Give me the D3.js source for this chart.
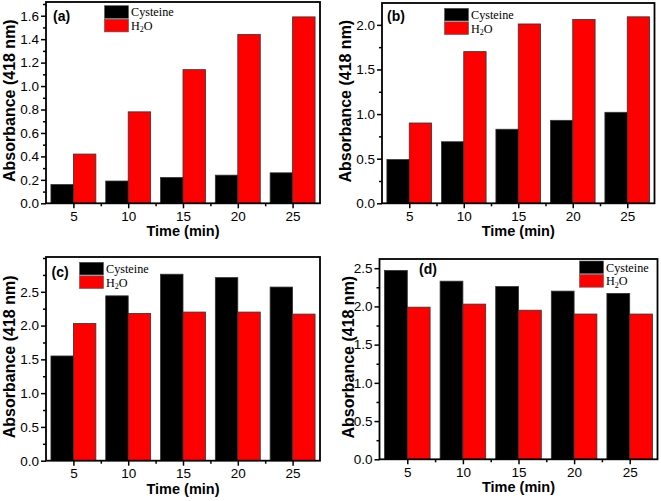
<!DOCTYPE html>
<html>
<head>
<meta charset="utf-8">
<script src="https://cdn.jsdelivr.net/npm/d3@7"></script>
<style>
  html, body { margin: 0; padding: 0; background: #fff; }
  svg { display: block; }
</style>
</head>
<body>
<svg id="chart" width="661" height="501"></svg>
<script>
// ---------- DATA ----------
const times = [5, 10, 15, 20, 25];
const seriesNames = ["Cysteine", "H2O"];

const cysteineA = [0.16, 0.19, 0.22, 0.24, 0.26];
const waterA    = [0.42, 0.78, 1.14, 1.44, 1.59];

const cysteineB = [0.49, 0.69, 0.83, 0.93, 1.02];
const waterB    = [0.90, 1.70, 2.01, 2.06, 2.09];

const cysteineC = [1.55, 2.44, 2.76, 2.71, 2.57];
const waterC    = [2.03, 2.18, 2.20, 2.20, 2.17];

const cysteineD = [2.47, 2.33, 2.26, 2.20, 2.17];
const waterD    = [1.99, 2.03, 1.95, 1.90, 1.90];

const yTicksA = [0.0, 0.2, 0.4, 0.6, 0.8, 1.0, 1.2, 1.4, 1.6];
const yTicksB = [0.0, 0.5, 1.0, 1.5, 2.0];
const yTicksC = [0.0, 0.5, 1.0, 1.5, 2.0, 2.5];
const yTicksD = [0.0, 0.5, 1.0, 1.5, 2.0, 2.5];

const panelLabels = ["(a)", "(b)", "(c)", "(d)"];
const xTitle = "Time (min)";
const yTitle = "Absorbance (418 nm)";

// ---------- LAYOUT / STYLE ----------
const colors = ["#000000", "#ff0000"];
const panels = [
  { label: panelLabels[0], cys: cysteineA, wat: waterA, ticks: yTicksA, yMax: 1.717, minorStep: 0.1,
    box: { l: 46, r: 320, t: 2, b: 203.3 }, leg: { x: 104.5, y: 5.7 }, lab: { x: 53, y: 16 }, ytx: 9 },
  { label: panelLabels[1], cys: cysteineB, wat: waterB, ticks: yTicksB, yMax: 2.245, minorStep: 0.25,
    box: { l: 382, r: 654.5, t: 3, b: 203.3 }, leg: { x: 444.5, y: 8.3 }, lab: { x: 387, y: 16 }, ytx: 345 },
  { label: panelLabels[2], cys: cysteineC, wat: waterC, ticks: yTicksC, yMax: 3.015, minorStep: 0.25,
    box: { l: 46, r: 320, t: 257, b: 460.7 }, leg: { x: 79.5, y: 262.3 }, lab: { x: 51.5, y: 272 }, ytx: 9 },
  { label: panelLabels[3], cys: cysteineD, wat: waterD, ticks: yTicksD, yMax: 2.62, minorStep: 0.25,
    box: { l: 379.5, r: 657.5, t: 259, b: 459.3 }, leg: { x: 579.5, y: 261 }, lab: { x: 419, y: 268.5 }, ytx: 348 }
];

const svg = d3.select("#chart");
const sansFont = "'Liberation Sans', Arial, sans-serif";
const serifFont = "'Liberation Serif', 'Times New Roman', serif";

panels.forEach(p => {
  const B = p.box;
  const g = svg.append("g");
  const x = d3.scaleLinear().domain([2.5, 27.5]).range([B.l, B.r]);
  const y = d3.scaleLinear().domain([0, p.yMax]).range([B.b, B.t]);
  const barW = 2.05; // in x units

  const rows = times.map((t, i) => ({ t, vals: [p.cys[i], p.wat[i]] }));

  // bars
  rows.forEach(r => {
    r.vals.forEach((v, k) => {
      const x0 = k === 0 ? r.t - barW : r.t;
      g.append("rect")
        .attr("x", x(x0))
        .attr("y", y(v))
        .attr("width", x(x0 + barW) - x(x0))
        .attr("height", y(0) - y(v))
        .attr("fill", colors[k])
        .attr("stroke", "#333")
        .attr("stroke-width", 0.8);
    });
  });

  // y axis
  const minorY = d3.range(0, p.yMax + 1e-9, p.minorStep).filter(v => !p.ticks.some(t => Math.abs(t - v) < 1e-6));
  const yAxis = d3.axisLeft(y).tickValues(p.ticks).tickFormat(d3.format(".1f")).tickSize(5).tickPadding(2);
  const yg = g.append("g").attr("transform", `translate(${B.l},0)`).call(yAxis);
  yg.select(".domain").remove();
  yg.selectAll("line").attr("stroke", "#000").attr("stroke-width", 1.5);
  yg.selectAll("text").attr("font-family", sansFont).attr("font-size", 13.5).attr("fill", "#000");
  const ym = g.append("g").attr("transform", `translate(${B.l},0)`)
    .call(d3.axisLeft(y).tickValues(minorY).tickFormat("").tickSize(3));
  ym.select(".domain").remove();
  ym.selectAll("line").attr("stroke", "#000").attr("stroke-width", 1.5);

  // x axis
  const xAxis = d3.axisBottom(x).tickValues(times).tickFormat(d3.format("d")).tickSize(5).tickPadding(3);
  const xg = g.append("g").attr("transform", `translate(0,${B.b})`).call(xAxis);
  xg.select(".domain").remove();
  xg.selectAll("line").attr("stroke", "#000").attr("stroke-width", 1.5);
  xg.selectAll("text").attr("font-family", sansFont).attr("font-size", 13.5).attr("fill", "#000");
  const minorX = times.slice(0, -1).map(t => t + 2.5);
  const xm = g.append("g").attr("transform", `translate(0,${B.b})`)
    .call(d3.axisBottom(x).tickValues(minorX).tickFormat("").tickSize(3));
  xm.select(".domain").remove();
  xm.selectAll("line").attr("stroke", "#000").attr("stroke-width", 1.5);

  // frame
  g.append("rect")
    .attr("x", B.l).attr("y", B.t)
    .attr("width", B.r - B.l).attr("height", B.b - B.t)
    .attr("fill", "none").attr("stroke", "#000").attr("stroke-width", 1.8);

  // axis titles
  g.append("text")
    .attr("x", (B.l + B.r) / 2)
    .attr("y", B.b + 33)
    .attr("text-anchor", "middle")
    .attr("font-family", sansFont).attr("font-weight", "bold").attr("font-size", 14.5)
    .text(xTitle);
  g.append("text")
    .attr("transform", `translate(${p.ytx + 5.5},${(B.t + B.b) / 2 - 2}) rotate(-90)`)
    .attr("text-anchor", "middle")
    .attr("font-family", sansFont).attr("font-weight", "bold").attr("font-size", 16)
    .text(yTitle);

  // panel label
  g.append("text")
    .attr("x", p.lab.x).attr("y", p.lab.y + 5)
    .attr("font-family", sansFont).attr("font-weight", "bold").attr("font-size", 14)
    .text(p.label);

  // legend
  const sw = 24, sh = 12.6, pitch = 13.6;
  seriesNames.forEach((name, k) => {
    const ly = p.leg.y + k * pitch;
    g.append("rect")
      .attr("x", p.leg.x).attr("y", ly)
      .attr("width", sw).attr("height", sh)
      .attr("fill", colors[k]).attr("stroke", "#555").attr("stroke-width", 0.6);
    const t = g.append("text")
      .attr("x", p.leg.x + sw + 2.5).attr("y", ly + sh / 2 + 4.3)
      .attr("font-family", serifFont).attr("font-size", 12.2).attr("fill", "#000");
    if (name === "H2O") {
      t.append("tspan").text("H");
      t.append("tspan").attr("font-size", 8).attr("dy", 2.5).text("2");
      t.append("tspan").attr("dy", -2.5).text("O");
    } else {
      t.text(name);
    }
  });
});
</script>
</body>
</html>
